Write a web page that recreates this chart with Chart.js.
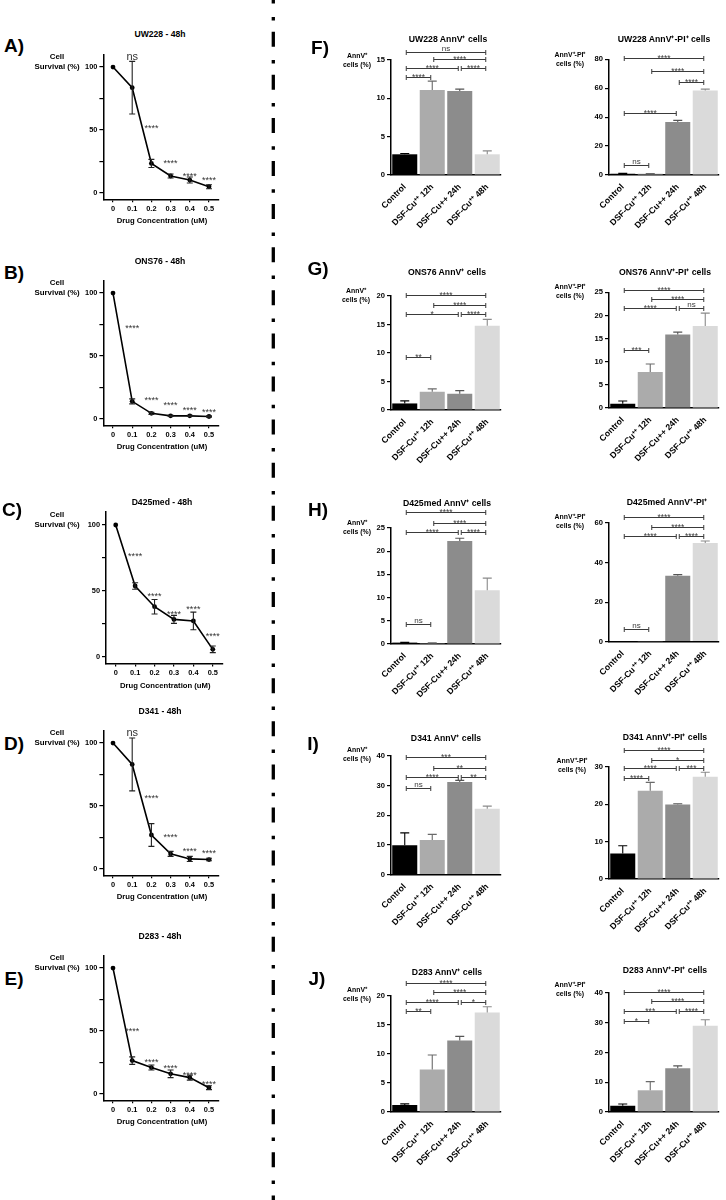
<!DOCTYPE html>
<html>
<head>
<meta charset="utf-8">
<script src="https://cdn.jsdelivr.net/npm/chart.js@4.4.1/dist/chart.umd.min.js"></script>
<style>
  html, body { margin: 0; padding: 0; background: #fff; }
  #page { position: relative; width: 726px; height: 1200px; overflow: hidden; font-family: 'Liberation Sans', Arial, sans-serif; }
  #page canvas { position: absolute; }
  .txt { position: absolute; transform: translate(-50%, -50%); white-space: nowrap; font-weight: bold; color: #000; line-height: 1; text-align: center; }
  #divider { position: absolute; left: 0; top: 0; }
</style>
</head>
<body>
<div id="page">
  <svg id="divider" width="726" height="1200">
    <line x1="273.3" y1="0" x2="273.3" y2="1200" stroke="#000" stroke-width="3.3"
          stroke-dasharray="15 13.3 3.5 11.3" stroke-dashoffset="11.4"/>
  </svg>
</div>
<script>
// ---------------- data ----------------
const concentrations = [0, 0.1, 0.2, 0.3, 0.4, 0.5];
const concentrationLabels = ['0', '0.1', '0.2', '0.3', '0.4', '0.5'];
const survivalTicks = [0, 25, 50, 75, 100];
const survivalLabels = ['0', '', '50', '', '100'];
const lineTitles = ['UW228 - 48h', 'ONS76 - 48h', 'D425med - 48h', 'D341 - 48h', 'D283 - 48h'];
const lineLetters = ['A)', 'B)', 'C)', 'D)', 'E)'];

const uw228Survival = [100, 83.6, 23.5, 13.5, 10.3, 5];
const uw228SurvivalErr = [0, 20.9, 3.2, 1.6, 2.4, 1.6];
const uw228Stars = ['', 'ns', '****', '****', '****', '****'];
const uw228StarsY = [0, 108, 53, 25.7, 15.1, 11.9];

const ons76Survival = [100, 14, 4.5, 2.5, 2.5, 2];
const ons76SurvivalErr = [0, 2, 0.8, 0.5, 0.5, 0.5];
const ons76Stars = ['', '****', '****', '****', '****', '****'];
const ons76StarsY = [0, 74, 17, 13, 9, 7];

const d425Survival = [100, 53.8, 38.1, 28.5, 27.3, 5.8];
const d425SurvivalErr = [0, 2.5, 5.5, 3, 6.7, 2.5];
const d425Stars = ['', '****', '****', '****', '****', '****'];
const d425StarsY = [0, 77.8, 47.7, 34.3, 37.6, 17.9];

const d341Survival = [100, 83, 27, 12, 8, 7.5];
const d341SurvivalErr = [0, 21, 9, 2, 2, 1];
const d341Stars = ['', 'ns', '****', '****', '****', '****'];
const d341StarsY = [0, 108, 58, 27, 16, 14];

const d283Survival = [100, 26.5, 21, 16, 13, 5];
const d283SurvivalErr = [0, 3, 2, 3, 2, 1.5];
const d283Stars = ['', '****', '****', '****', '****', '****'];
const d283StarsY = [0, 52, 27, 22, 17, 10];

const groups = ['Control', 'DSF-Cu\u207A\u207A 12h', 'DSF-Cu++ 24h', 'DSF-Cu\u207A\u207A 48h'];
const barTitles = [
  'UW228 AnnV\u207A cells', 'UW228 AnnV\u207A-PI\u207A cells',
  'ONS76 AnnV\u207A cells', 'ONS76 AnnV\u207A-PI\u207A cells',
  'D425med AnnV\u207A cells', 'D425med AnnV\u207A-PI\u207A',
  'D341 AnnV\u207A cells', 'D341 AnnV\u207A-PI\u207A cells',
  'D283 AnnV\u207A cells', 'D283 AnnV\u207A-PI\u207A cells'
];
const barLetters = ['F)', 'G)', 'H)', 'I)', 'J)'];
const annvLabel = 'AnnV\u207A<br>cells (%)';
const piLabel = 'AnnV\u207A-PI\u207A<br>cells (%)';

const uw228AnnV = [2.7, 11.1, 10.95, 2.7];
const uw228AnnVErr = [0.1, 1.15, 0.25, 0.45];
const uw228AnnVSig = [[0, 3, 16.1, 'ns'], [1, 3, 15.1, '****'], [0, 2, 13.9, '****'], [2, 3, 13.9, '****'], [0, 1, 12.8, '****']];
const uw228Pi = [0.9, 0.8, 36.6, 58.5];
const uw228PiErr = [0.2, 0.2, 1.2, 0.9];
const uw228PiSig = [[0, 3, 80.7, '****'], [1, 3, 72.2, '****'], [2, 3, 64.5, '****'], [0, 2, 42.7, '****'], [0, 1, 7.2, 'ns']];

const ons76AnnV = [1.15, 3.2, 2.85, 14.8];
const ons76AnnVErr = [0.45, 0.5, 0.55, 1.1];
const ons76AnnVSig = [[0, 3, 20.2, '****'], [1, 3, 18.4, '****'], [0, 2, 16.8, '*'], [2, 3, 16.8, '****'], [0, 1, 9.35, '**']];
const ons76Pi = [0.9, 7.8, 15.9, 17.7];
const ons76PiErr = [0.6, 1.7, 0.5, 2.8];
const ons76PiSig = [[0, 3, 25.6, '****'], [1, 3, 23.5, '****'], [0, 2, 21.6, '****'], [2, 3, 21.6, 'ns'], [0, 1, 12.5, '***']];

const d425AnnV = [0.3, 0.2, 22.2, 11.6];
const d425AnnVErr = [0.05, 0.05, 0.6, 2.6];
const d425AnnVSig = [[0, 3, 28.4, '****'], [1, 3, 26.1, '****'], [0, 2, 24.1, '****'], [2, 3, 24.1, '****'], [0, 1, 4.3, 'ns']];
const d425Pi = [0.25, 0.25, 33.3, 49.9];
const d425PiErr = [0, 0, 0.6, 1];
const d425PiSig = [[0, 3, 62.9, '****'], [1, 3, 58, '****'], [0, 2, 53.3, '****'], [2, 3, 53.3, '****'], [0, 1, 6.3, 'ns']];

const d341AnnV = [9.9, 11.7, 31.2, 22.2];
const d341AnnVErr = [4.2, 1.9, 0.6, 0.9];
const d341AnnVSig = [[0, 3, 39.7, '***'], [1, 3, 36, '**'], [0, 2, 33, '****'], [2, 3, 33, '**'], [0, 1, 29.1, 'ns']];
const d341Pi = [6.8, 23.6, 19.9, 27.3];
const d341PiErr = [2.1, 2.2, 0.2, 1.2];
const d341PiSig = [[0, 3, 34.4, '****'], [1, 3, 31.9, '*'], [0, 2, 29.7, '****'], [2, 3, 29.7, '***'], [0, 1, 27, '****']];

const d283AnnV = [1.2, 7.3, 12.3, 17.1];
const d283AnnVErr = [0.2, 2.5, 0.7, 1];
const d283AnnVSig = [[0, 3, 22.2, '****'], [1, 3, 20.6, '****'], [0, 2, 19, '****'], [2, 3, 19, '*'], [0, 1, 17.3, '**']];
const d283Pi = [2.1, 7.3, 14.7, 29];
const d283PiErr = [0.6, 2.9, 0.8, 2];
const d283PiSig = [[0, 3, 40.3, '****'], [1, 3, 37.2, '****'], [0, 2, 34, '***'], [2, 3, 34, '****'], [0, 1, 30.7, '*']];

// ---------------- style / layout ----------------
const FONT = "'Liberation Sans', Arial, Helvetica, sans-serif";
const groupColors = ['#000000', '#ababab', '#8c8c8c', '#dadada'];
const groupErrColors = ['#000000', '#6a6a6a', '#555555', '#8a8a8a'];
Chart.defaults.font.family = FONT;
Chart.defaults.color = '#000';

const page = document.getElementById('page');

function addText(html, x, y, size, lh) {
  const d = document.createElement('div');
  d.className = 'txt';
  d.style.left = x + 'px';
  d.style.top = y + 'px';
  d.style.fontSize = size + 'px';
  if (lh) d.style.lineHeight = lh + 'px';
  d.innerHTML = html;
  page.appendChild(d);
}

// canvas placed so that the chart area lands on the given page rectangle
function makeCanvas(area, pad) {
  const left = Math.floor(area.l - pad.yw);
  const top = Math.floor(area.t - pad.top);
  const right = Math.ceil(area.r + pad.right);
  const bottom = Math.ceil(area.b + pad.xh);
  const c = document.createElement('canvas');
  c.width = right - left;
  c.height = bottom - top;
  c.style.left = left + 'px';
  c.style.top = top + 'px';
  c.style.width = c.width + 'px';
  c.style.height = c.height + 'px';
  page.appendChild(c);
  return {
    canvas: c,
    yw: area.l - left,
    xh: bottom - area.b,
    padding: { left: 0, top: area.t - top, right: right - area.r, bottom: 0 }
  };
}

const errorBarPlugin = {
  id: 'errorBars',
  afterDatasetsDraw(chart, args, opts) {
    const ctx = chart.ctx, ys = chart.scales.y;
    chart.data.datasets.forEach((ds, di) => {
      if (!ds.errors) return;
      chart.getDatasetMeta(di).data.forEach((el, i) => {
        const e = ds.errors[i];
        if (!e) return;
        const raw = ds.data[i];
        const v = typeof raw === 'number' ? raw : raw.y;
        const x = el.x;
        const top = ys.getPixelForValue(v + e);
        const bot = opts.upOnly ? ys.getPixelForValue(v) : ys.getPixelForValue(v - e);
        ctx.save();
        ctx.strokeStyle = ds.errorColors ? ds.errorColors[i] : opts.color;
        ctx.lineWidth = opts.width;
        ctx.beginPath();
        ctx.moveTo(x, bot); ctx.lineTo(x, top);
        ctx.moveTo(x - opts.cap, top); ctx.lineTo(x + opts.cap, top);
        if (!opts.upOnly) { ctx.moveTo(x - opts.cap, bot); ctx.lineTo(x + opts.cap, bot); }
        ctx.stroke();
        ctx.restore();
      });
    });
  }
};

function drawSig(ctx, text, x, y, size, nsSize, mode) {
  const star = text.indexOf('*') >= 0;
  const fs = star ? size : nsSize;
  ctx.font = fs + 'px ' + FONT;
  const lo = star ? 0.42 * fs : 0, hi = star ? 0.72 * fs : 0.53 * fs;
  const base = mode === 'bottom' ? y - 1.5 + lo : y + (lo + hi) / 2;
  ctx.fillText(text, x, base);
}

const marksPlugin = {
  id: 'marks',
  afterDraw(chart, args, opts) {
    const ctx = chart.ctx, xs = chart.scales.x, ys = chart.scales.y;
    ctx.save();
    ctx.fillStyle = opts.color;
    ctx.strokeStyle = opts.color;
    ctx.textAlign = 'center';
    ctx.textBaseline = 'alphabetic';
    (opts.brackets || []).forEach(([a, b, v, t]) => {
      const x1 = xs.getPixelForValue(a) + 1.5, x2 = xs.getPixelForValue(b) - 1.5;
      const y = Math.round(ys.getPixelForValue(v)) + 0.5;
      ctx.lineWidth = 1;
      ctx.beginPath();
      ctx.moveTo(x1, y); ctx.lineTo(x2, y);
      ctx.moveTo(x1, y - 2.5); ctx.lineTo(x1, y + 2.5);
      ctx.moveTo(x2, y - 2.5); ctx.lineTo(x2, y + 2.5);
      ctx.stroke();
      drawSig(ctx, t, (x1 + x2) / 2, y, opts.size, opts.nsSize, 'bottom');
    });
    (opts.points || []).forEach(([xv, yv, t]) => {
      if (!t) return;
      drawSig(ctx, t, xs.getPixelForValue(xv), ys.getPixelForValue(yv), opts.size, opts.nsSize, 'center');
    });
    ctx.restore();
  }
};

function axisStyle(tickSize, showTicks) {
  return {
    border: { display: true, color: '#000', width: 1.5 },
    grid: { display: showTicks, drawOnChartArea: false, drawTicks: true, tickLength: 4, color: '#000', lineWidth: 1.2 },
    ticks: { color: '#000', padding: 2, autoSkip: false, font: { family: FONT, size: tickSize, weight: 'bold' } }
  };
}

function lineChart(box, values, errs, stars, starsY, idx) {
  const cv = makeCanvas(box.area, { yw: 26, xh: 20, top: 6, right: 8 });
  const xAxis = axisStyle(7.4, true);
  const yAxis = axisStyle(7.4, true);
  xAxis.grid.tickLength = 3;
  xAxis.ticks.callback = (v, i) => concentrationLabels[i];
  yAxis.ticks.callback = (v, i) => survivalLabels[i];
  new Chart(cv.canvas, {
    type: 'line',
    data: {
      datasets: [{
        data: concentrations.map((c, i) => ({ x: c, y: values[i] })),
        errors: errs,
        borderColor: '#000', backgroundColor: '#000', borderWidth: 1.6,
        pointRadius: 2.4, pointBorderWidth: 0, tension: 0
      }]
    },
    options: {
      responsive: false, animation: false, events: [],
      layout: { padding: cv.padding },
      plugins: {
        legend: { display: false }, tooltip: { enabled: false },
        errorBars: { color: '#222', cap: 3, width: 1.1, upOnly: false },
        marks: { color: '#333', size: 9, nsSize: 11, points: concentrations.map((c, i) => [c, starsY[i], stars[i]]) }
      },
      scales: {
        x: Object.assign(xAxis, {
          type: 'linear', min: -0.05, max: 0.55,
          afterBuildTicks: s => { s.ticks = concentrations.map(v => ({ value: v })); },
          afterFit: s => { s.height = cv.xh; }
        }),
        y: Object.assign(yAxis, {
          min: -5, max: 110,
          afterBuildTicks: s => { s.ticks = survivalTicks.map(v => ({ value: v })); },
          afterFit: s => { s.width = cv.yw; }
        })
      }
    },
    plugins: [errorBarPlugin, marksPlugin]
  });
  const a = box.area;
  addText(lineTitles[idx], box.title[0], box.title[1], 8.6);
  addText(lineLetters[idx], box.letter[0], box.letter[1], 19);
  addText('Cell<br>Survival (%)', box.ylab[0], box.ylab[1], 7.9, 10);
  addText('Drug Concentration (uM)', (a.l + a.r) / 2 + 1, a.b + 22, 7.7);
}

function barChart(box, values, errs, sig, yMax, yStep, idx, yLabel) {
  const cv = makeCanvas(box.area, { yw: 20, xh: 56, top: 34, right: 7 });
  const xAxis = axisStyle(8.6, false);
  const yAxis = axisStyle(7.6, true);
  xAxis.ticks.maxRotation = 45;
  xAxis.ticks.minRotation = 45;
  xAxis.ticks.padding = 3;
  new Chart(cv.canvas, {
    type: 'bar',
    data: {
      labels: groups,
      datasets: [{
        data: values, errors: errs, errorColors: groupErrColors,
        backgroundColor: groupColors, borderWidth: 0,
        categoryPercentage: 1, barPercentage: 0.91
      }]
    },
    options: {
      responsive: false, animation: false, events: [],
      layout: { padding: cv.padding },
      plugins: {
        legend: { display: false }, tooltip: { enabled: false },
        errorBars: { color: '#333', cap: 4.5, width: 1.1, upOnly: true },
        marks: { color: '#3a3a3a', size: 8.5, nsSize: 8, brackets: sig }
      },
      scales: {
        x: Object.assign(xAxis, { afterFit: s => { s.height = cv.xh; } }),
        y: Object.assign(yAxis, {
          min: 0, max: yMax,
          ticks: Object.assign(yAxis.ticks, { stepSize: yStep }),
          afterFit: s => { s.width = cv.yw; }
        })
      }
    },
    plugins: [errorBarPlugin, marksPlugin]
  });
  addText(barTitles[idx], box.title[0], box.title[1], 8.7);
  addText(yLabel, box.ylab[0], box.ylab[1], 6.9, 8.5);
  if (box.letter) addText(barLetters[idx / 2], box.letter[0], box.letter[1], 19);
}

// ---------------- placement ----------------
const lineBoxes = [
  { area: { l: 103.4, r: 218.6, t: 54.4, b: 199.3 }, title: [160, 34], letter: [14, 45], ylab: [57, 62] },
  { area: { l: 103.4, r: 218.6, t: 280.4, b: 425.3 }, title: [160, 261], letter: [14, 272], ylab: [57, 288] },
  { area: { l: 106, r: 222.5, t: 511.8, b: 663.6 }, title: [162, 502], letter: [12, 509], ylab: [57, 520] },
  { area: { l: 103.4, r: 218.6, t: 730.4, b: 875.3 }, title: [160, 711], letter: [14, 743], ylab: [57, 738] },
  { area: { l: 103.4, r: 218.6, t: 955.4, b: 1100.3 }, title: [160, 936], letter: [14, 978], ylab: [57, 963] }
];

const barBoxes = [
  { area: { l: 391, r: 501, t: 60, b: 175 }, title: [448, 39], ylab: [357, 60], letter: [320, 47] },
  { area: { l: 609, r: 719, t: 59.3, b: 175 }, title: [664, 39], ylab: [570, 59] },
  { area: { l: 391, r: 501, t: 296, b: 410 }, title: [447, 272], ylab: [356, 295], letter: [318, 268] },
  { area: { l: 609, r: 719, t: 292.3, b: 408 }, title: [665, 272], ylab: [570, 291] },
  { area: { l: 391, r: 501, t: 528, b: 644 }, title: [447, 503], ylab: [357, 527], letter: [318, 509] },
  { area: { l: 609, r: 719, t: 523, b: 641.7 }, title: [667, 502], ylab: [570, 521] },
  { area: { l: 391, r: 501, t: 756, b: 874.7 }, title: [446, 738], ylab: [357, 754], letter: [313, 743] },
  { area: { l: 609, r: 719, t: 766.7, b: 879 }, title: [665, 737], ylab: [572, 765] },
  { area: { l: 391, r: 501, t: 995.7, b: 1112 }, title: [447, 972], ylab: [357, 994], letter: [317, 978] },
  { area: { l: 609, r: 719, t: 993, b: 1112 }, title: [665, 970], ylab: [570, 989] }
];

lineChart(lineBoxes[0], uw228Survival, uw228SurvivalErr, uw228Stars, uw228StarsY, 0);
lineChart(lineBoxes[1], ons76Survival, ons76SurvivalErr, ons76Stars, ons76StarsY, 1);
lineChart(lineBoxes[2], d425Survival, d425SurvivalErr, d425Stars, d425StarsY, 2);
lineChart(lineBoxes[3], d341Survival, d341SurvivalErr, d341Stars, d341StarsY, 3);
lineChart(lineBoxes[4], d283Survival, d283SurvivalErr, d283Stars, d283StarsY, 4);

barChart(barBoxes[0], uw228AnnV, uw228AnnVErr, uw228AnnVSig, 15, 5, 0, annvLabel);
barChart(barBoxes[1], uw228Pi, uw228PiErr, uw228PiSig, 80, 20, 1, piLabel);
barChart(barBoxes[2], ons76AnnV, ons76AnnVErr, ons76AnnVSig, 20, 5, 2, annvLabel);
barChart(barBoxes[3], ons76Pi, ons76PiErr, ons76PiSig, 25, 5, 3, piLabel);
barChart(barBoxes[4], d425AnnV, d425AnnVErr, d425AnnVSig, 25, 5, 4, annvLabel);
barChart(barBoxes[5], d425Pi, d425PiErr, d425PiSig, 60, 20, 5, piLabel);
barChart(barBoxes[6], d341AnnV, d341AnnVErr, d341AnnVSig, 40, 10, 6, annvLabel);
barChart(barBoxes[7], d341Pi, d341PiErr, d341PiSig, 30, 10, 7, piLabel);
barChart(barBoxes[8], d283AnnV, d283AnnVErr, d283AnnVSig, 20, 5, 8, annvLabel);
barChart(barBoxes[9], d283Pi, d283PiErr, d283PiSig, 40, 10, 9, piLabel);
</script>
</body>
</html>
